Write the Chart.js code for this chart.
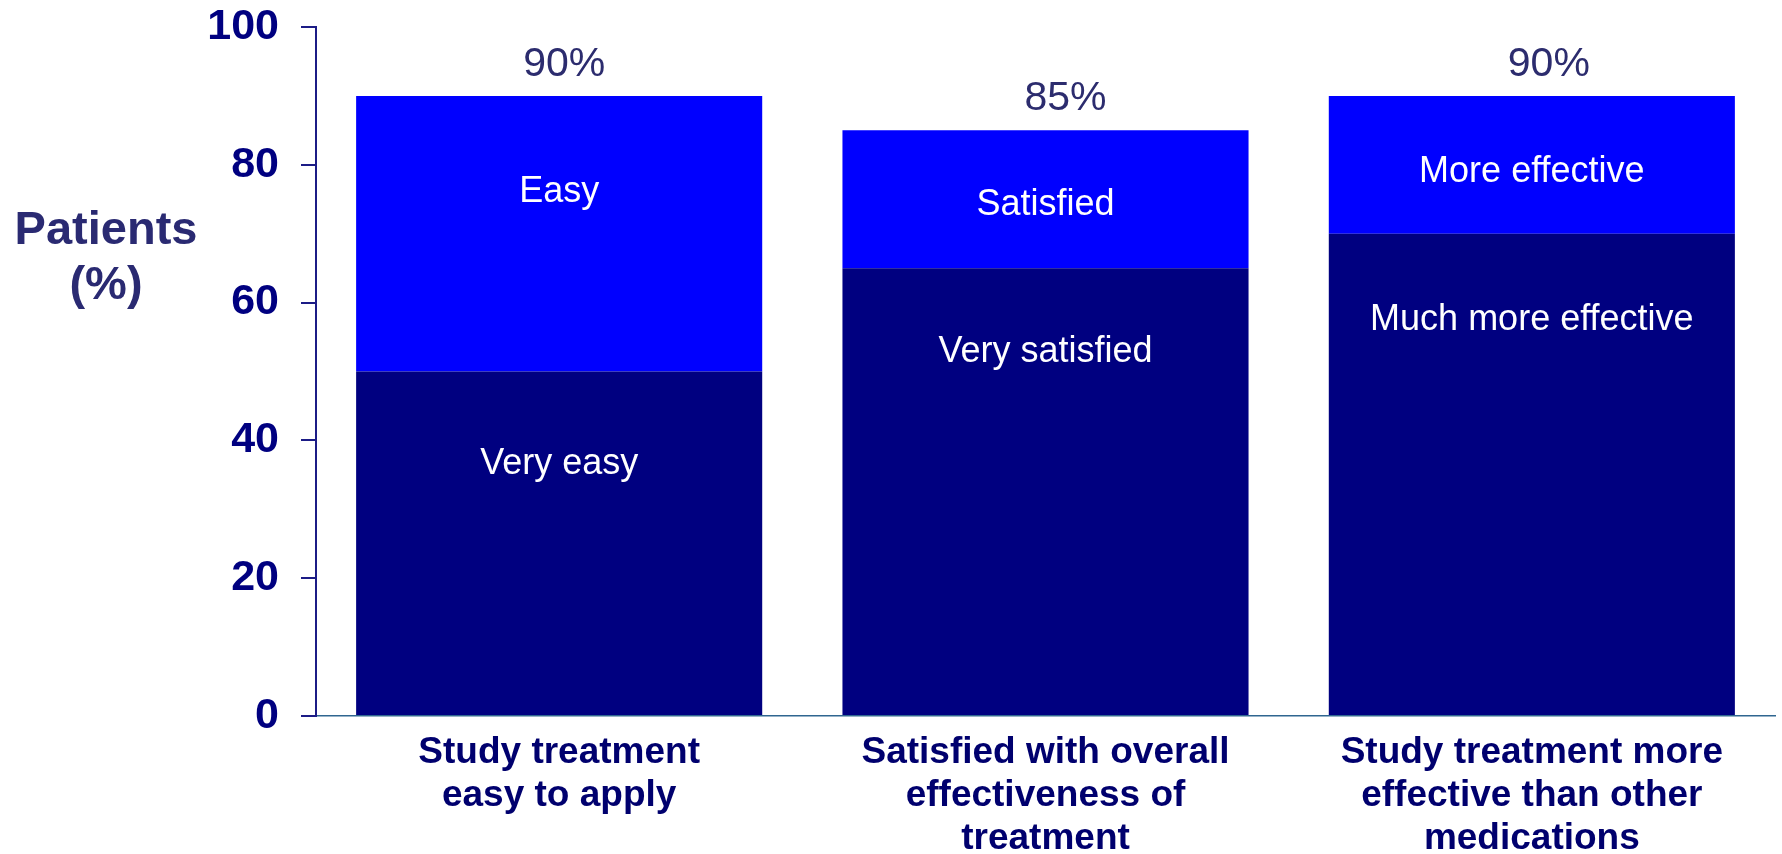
<!DOCTYPE html>
<html>
<head>
<meta charset="utf-8">
<script src="https://cdn.jsdelivr.net/npm/chart.js@4/dist/chart.umd.min.js"></script>
<style>
  html, body { margin: 0; padding: 0; background: #fff; }
  #wrap { width: 1782px; height: 854px; }
</style>
</head>
<body>
<div id="wrap"><canvas id="bar-chart"></canvas></div>
<script>
// categories (multi-line labels)
var categories = [
  ["Study treatment", "easy to apply"],
  ["Satisfied with overall", "effectiveness of", "treatment"],
  ["Study treatment more", "effective than other", "medications"]
];
// lower (dark) segment and upper (bright) segment, % of patients
var strongValues = [50, 65, 70];
var mildValues = [40, 20, 20];
var totalLabels = ["90%", "85%", "90%"];
var strongNames = ["Very easy", "Very satisfied", "Much more effective"];
var mildNames = ["Easy", "Satisfied", "More effective"];
var yTicks = [0, 20, 40, 60, 80, 100];

window.addEventListener('load', function(event){
	// where the white text sits inside each segment (value units)
	var strongTextAt = [37, 53.3, 57.9];
	var mildTextAt = [76.5, 74.6, 79.4];
	var totalDx = [5, 20, 17];

	var labelPlugin = {
		id: 'segLabels',
		afterDatasetsDraw: function(chart){
			var ctx = chart.ctx;
			var y = chart.scales.y;
			var metaTop = chart.getDatasetMeta(1);
			ctx.save();
			ctx.textAlign = 'center';
			ctx.textBaseline = 'alphabetic';
			// text inside the bars
			ctx.fillStyle = '#ffffff';
			ctx.font = '36px "Liberation Sans", Arial, sans-serif';
			for(var i=0; i<categories.length; i++){
				var bx = metaTop.data[i].x;
				ctx.fillText(strongNames[i], bx, y.getPixelForValue(strongTextAt[i]) + 13);
				ctx.fillText(mildNames[i], bx, y.getPixelForValue(mildTextAt[i]) + 13);
			}
			// totals above the bars
			ctx.fillStyle = '#2c2c6e';
			ctx.font = '41px "Liberation Sans", Arial, sans-serif';
			for(var j=0; j<categories.length; j++){
				var top = y.getPixelForValue(strongValues[j] + mildValues[j]);
				ctx.fillText(totalLabels[j], metaTop.data[j].x + totalDx[j], top - 20);
			}
			// y axis title, horizontal, two lines
			ctx.fillStyle = '#2a2a72';
			ctx.font = 'bold 47px "Liberation Sans", Arial, sans-serif';
			ctx.fillText("Patients", 106, 244);
			ctx.fillText("(%)", 106, 299);
			ctx.restore();
		}
	};

	var context = document.getElementById('bar-chart').getContext('2d');
	var chart = new Chart(context, {
		type: 'bar',
		data: {
			labels: categories,
			datasets: [{
				data: strongValues,
				backgroundColor: '#000080',
				borderWidth: 0,
				categoryPercentage: 1,
				barPercentage: 0.835
			}, {
				data: mildValues,
				backgroundColor: '#0000ff',
				borderWidth: 0,
				categoryPercentage: 1,
				barPercentage: 0.835
			}]
		},
		options: {
			responsive: true,
			maintainAspectRatio: false,
			animation: false,
			layout: { padding: { top: 27, right: 7, left: 0, bottom: 0 } },
			plugins: {
				legend: { display: false },
				tooltip: { enabled: false },
				title: { display: false }
			},
			scales: {
				x: {
					stacked: true,
					grid: { display: false, drawTicks: false },
					border: { display: true, color: '#2f6690', width: 1.5 },
					ticks: {
						color: '#00006e',
						padding: 16,
						maxRotation: 0,
						autoSkip: false,
						font: { family: '"Liberation Sans", Arial, sans-serif', size: 37, weight: 'bold', lineHeight: 1.15 }
					},
					afterFit: function(scale){ scale.height = 138; scale.paddingTop = 0; scale.paddingBottom = 0; }
				},
				y: {
					stacked: true,
					min: 0,
					max: 100,
					afterBuildTicks: function(scale){
						scale.ticks = yTicks.map(function(v){ return { value: v }; });
					},
					grid: { drawOnChartArea: false, drawTicks: true, tickLength: 15, color: '#1c1c86', lineWidth: 2 },
					border: { display: true, color: '#1c1c86', width: 2 },
					ticks: {
						color: '#000080',
						padding: 22,
						font: { family: '"Liberation Sans", Arial, sans-serif', size: 43, weight: 'bold', lineHeight: 1.2 }
					},
					afterFit: function(scale){ scale.width = 316; scale.paddingTop = 0; scale.paddingBottom = 0; }
				}
			}
		},
		plugins: [labelPlugin]
	});
});
</script>
</body>
</html>
